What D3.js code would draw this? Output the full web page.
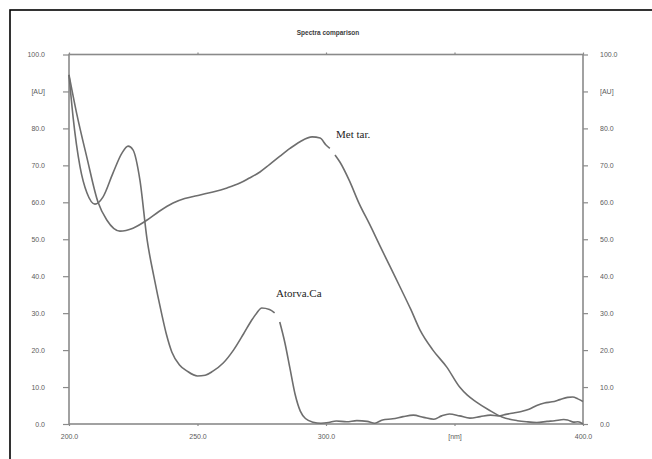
<!DOCTYPE html>
<html>
<head>
<meta charset="utf-8">
<script src="https://cdn.jsdelivr.net/npm/d3@7"></script>
<style>
  body { margin: 0; background: white; }
  svg { display: block; }
  svg text { opacity: 0.99; }
</style>
</head>
<body>
<div id="chart"></div>
<script>
// wavelengths (nm) and absorbance (AU); null = gap in the trace
var atorvaNm = [200, 201.6, 204.3, 207, 210.1, 213.2, 217.1, 220.6, 223, 224.9, 227.6, 230.4, 233, 236, 238, 240, 243, 246, 250, 253, 256, 260, 264, 268, 271, 273, 275, 278, 280, 281, 282, 284, 286, 288, 290, 292, 295, 298, 301, 304, 308, 312, 316, 319, 322, 326, 330, 334, 338, 342, 345, 348, 352, 356, 360, 364, 367, 370, 373, 376, 379, 382, 385, 388, 391, 394, 396, 398, 400];
var atorvaAu = [94.5, 83, 69.6, 62.5, 59.5, 61.4, 67.9, 73.3, 75.2, 74.2, 66, 49.8, 40, 30, 24, 19.5, 16, 14.3, 13, 13.2, 14.3, 16.5, 20, 24.5, 28, 30, 31.4, 31, 30.1, null, 27.6, 22, 15, 8, 3.5, 1.5, 0.5, 0.2, 0.4, 0.8, 0.6, 0.9, 0.7, 0.2, 1.1, 1.4, 2.0, 2.4, 1.8, 1.3, 2.2, 2.7, 2.2, 1.6, 2.0, 2.4, 2.2, 2.6, 3.0, 3.4, 4.0, 5.0, 5.7, 6.0, 6.6, 7.2, 7.3, 6.8, 6.1];

var metNm = [200, 203, 206.9, 211.3, 214.7, 219.8, 224.9, 230.4, 235, 240.5, 245, 251, 256, 261.5, 266.5, 270, 274.3, 278, 282.1, 286, 289.9, 294.6, 297.7, 300, 301.5, 302.3, 303.5, 305.4, 309, 313, 317, 321, 325, 329, 333, 336.6, 341.6, 347, 352, 355, 358.4, 363.4, 368.5, 374.5, 378, 382, 386, 389, 392.5, 394, 396.4, 398, 400];
var metAu = [94.5, 84, 72.3, 60, 55.2, 52.2, 53, 55.2, 57.5, 59.8, 61, 62, 62.8, 63.9, 65.2, 66.5, 68.2, 70.2, 72.5, 74.6, 76.4, 77.7, 77.4, 75.5, 74.6, null, 72.8, 70.9, 66, 59.5, 54, 48.2, 42.5, 36.8, 31, 25.4, 20, 15.4, 10, 7.8, 6, 3.8, 1.9, 0.9, 0.6, 0.4, 0.7, 0.9, 1.2, 1.1, 0.5, 0.6, 0];

var xTicks = [200, 250, 300, 350, 400];
var xTickLabels = ['200.0', '250.0', '300.0', '[nm]', '400.0'];
var yTicks = [0, 10, 20, 30, 40, 50, 60, 70, 80, 90, 100];
var yTickLabels = ['0.0', '10.0', '20.0', '30.0', '40.0', '50.0', '60.0', '70.0', '80.0', '[AU]', '100.0'];

var svgWidth = 652,
    svgHeight = 459;

var svg = d3.select('#chart').append('svg')
    .attr('width', svgWidth)
    .attr('height', svgHeight)
    .style('background', 'white');

// outer frame (runs off the right and bottom edge)
svg.append('rect')
    .attr('x', 10).attr('y', 10)
    .attr('width', 700).attr('height', 500)
    .attr('fill', 'white')
    .attr('stroke', 'black').attr('stroke-width', 1.6);

var plotLeft = 69, plotRight = 583, plotTop = 54.5, plotBottom = 424;

var x = d3.scaleLinear().domain([200, 400]).range([plotLeft, plotRight]);
var y = d3.scaleLinear().domain([0, 100]).range([plotBottom, plotTop]);

var axisColor = '#8a8a8a',
    textColor = '#5a5a5a';

//title
svg.append('text')
    .text('Spectra comparison')
    .attr('x', 328).attr('y', 35)
    .attr('text-anchor', 'middle')
    .attr('font-family', 'Liberation Sans, Arial, sans-serif')
    .attr('font-size', '6.5px').attr('font-weight', 'bold')
    .attr('fill', '#3a3a3a');

function styleAxis(g) {
    g.select('.domain').remove();
    g.selectAll('line').attr('stroke', axisColor).attr('stroke-width', 1.2);
    g.selectAll('text')
        .attr('fill', textColor)
        .attr('font-family', 'Liberation Sans, Arial, sans-serif')
        .attr('font-size', '7px');
}

//left axis
svg.append('g')
    .attr('transform', 'translate(' + plotLeft + ',0)')
    .call(d3.axisLeft(y).tickValues(yTicks).tickSize(6).tickPadding(18)
        .tickFormat(function(d, i) { return yTickLabels[i]; }))
    .call(styleAxis);

//right axis
svg.append('g')
    .attr('transform', 'translate(' + plotRight + ',0)')
    .call(d3.axisRight(y).tickValues(yTicks).tickSize(5).tickPadding(12)
        .tickFormat(function(d, i) { return yTickLabels[i]; }))
    .call(styleAxis);

//bottom axis
svg.append('g')
    .attr('transform', 'translate(0,' + plotBottom + ')')
    .call(d3.axisBottom(x).tickValues(xTicks).tickSize(2).tickPadding(8)
        .tickFormat(function(d, i) { return xTickLabels[i]; }))
    .call(styleAxis);

//top tick marks
svg.append('g')
    .attr('transform', 'translate(0,' + plotTop + ')')
    .call(d3.axisTop(x).tickValues(xTicks).tickSize(2).tickFormat(''))
    .call(styleAxis);

//plot frame
svg.append('rect')
    .attr('x', plotLeft).attr('y', plotTop)
    .attr('width', plotRight - plotLeft).attr('height', plotBottom - plotTop)
    .attr('fill', 'none')
    .attr('stroke', axisColor).attr('stroke-width', 1.6);

var line = d3.line()
    .defined(function(d) { return d[1] !== null; })
    .x(function(d) { return x(d[0]); })
    .y(function(d) { return y(d[1]); })
    .curve(d3.curveMonotoneX);

//spectra
svg.append('path')
    .datum(atorvaNm.map(function(d, i) { return [d, atorvaAu[i]]; }))
    .attr('d', line)
    .attr('fill', 'none')
    .attr('stroke', '#6e6e6e').attr('stroke-width', 1.6);

svg.append('path')
    .datum(metNm.map(function(d, i) { return [d, metAu[i]]; }))
    .attr('d', line)
    .attr('fill', 'none')
    .attr('stroke', '#6e6e6e').attr('stroke-width', 1.6);

//curve labels
svg.append('text')
    .text('Met tar.')
    .attr('x', 336).attr('y', 138)
    .attr('font-family', 'Liberation Serif, Times New Roman, serif')
    .attr('font-size', '11px')
    .attr('fill', '#222');

svg.append('text')
    .text('Atorva.Ca')
    .attr('x', 276).attr('y', 297)
    .attr('font-family', 'Liberation Serif, Times New Roman, serif')
    .attr('font-size', '11px')
    .attr('fill', '#222');
</script>
</body>
</html>
